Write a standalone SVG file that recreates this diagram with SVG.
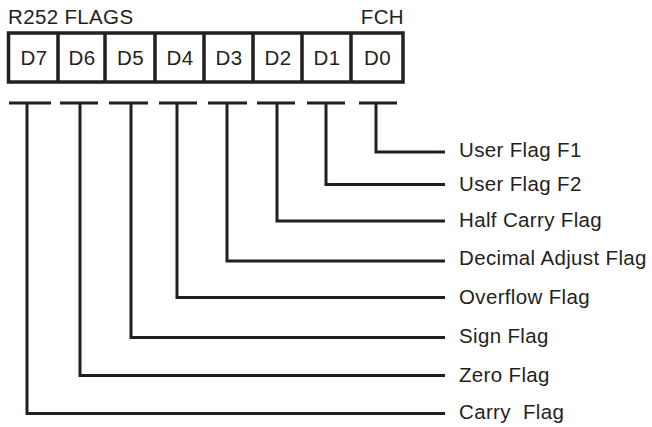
<svg xmlns="http://www.w3.org/2000/svg" width="652" height="427" viewBox="0 0 652 427">
<style>
text{font-family:"Liberation Sans",Arial,sans-serif;font-size:20.5px;letter-spacing:0.35px;fill:#231f20;white-space:pre}
.cell{text-anchor:middle}
.box{fill:#fff;stroke:#231f20;stroke-width:3.5}
.ln{fill:none;stroke:#231f20;stroke-width:3;stroke-linecap:butt;stroke-linejoin:miter}
</style>
<rect width="652" height="427" fill="#fff"/>
<g id="title">
<text x="8" y="24">R252 FLAGS</text>
<text x="404" y="24" text-anchor="end">FCH</text>
</g>
<g id="register">
<rect class="box" x="8.5" y="33" width="394.5" height="49"/>
<path class="ln" style="stroke-width:3.5" d="M58 33V82M105 33V82M155 33V82M204 33V82M253 33V82M302 33V82M351 33V82"/>
<text class="cell" x="34" y="65">D7</text>
<text class="cell" x="82" y="65">D6</text>
<text class="cell" x="130.5" y="65">D5</text>
<text class="cell" x="180" y="65">D4</text>
<text class="cell" x="229" y="65">D3</text>
<text class="cell" x="278" y="65">D2</text>
<text class="cell" x="327" y="65">D1</text>
<text class="cell" x="377.5" y="65">D0</text>
</g>
<g id="connectors">
<path class="ln" d="M9 103H51M60 103H98M109 103H148M159 103H197M208 103H247M257 103H295M307 103H345M359 103H397"/>
<path class="ln" d="M376 103V152H445"/>
<path class="ln" d="M326 103V184.5H445"/>
<path class="ln" d="M277 103V221H445"/>
<path class="ln" d="M227 103V261H445"/>
<path class="ln" d="M177 103V297.5H445"/>
<path class="ln" d="M131 103V337.5H445"/>
<path class="ln" d="M80 103V375.5H445"/>
<path class="ln" d="M27 103V413.5H445"/>
</g>
<g id="labels">
<text x="459" y="157">User Flag F1</text>
<text x="459" y="191">User Flag F2</text>
<text x="459" y="227">Half Carry Flag</text>
<text x="459" y="265">Decimal Adjust Flag</text>
<text x="459" y="304">Overflow Flag</text>
<text x="459" y="343">Sign Flag</text>
<text x="459" y="382">Zero Flag</text>
<text x="459" y="419" xml:space="preserve">Carry  Flag</text>
</g>
</svg>
